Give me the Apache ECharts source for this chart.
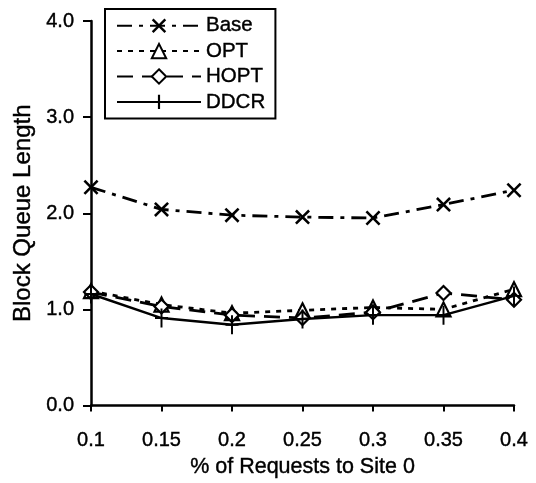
<!DOCTYPE html>
<html>
<head>
<meta charset="utf-8">
<script src="https://cdn.jsdelivr.net/npm/echarts@6/dist/echarts.min.js"></script>
<style>
  html, body { margin: 0; padding: 0; background: #fff; }
  #chart { width: 536px; height: 483px; }
</style>
</head>
<body>
<div id="chart"></div>
<script>
// Request share sent to site 0 (category axis)
const categories = ['0.1', '0.15', '0.2', '0.25', '0.3', '0.35', '0.4'];

// Average block queue length per scheme
const baseValues = [2.27, 2.04, 1.98, 1.96, 1.95, 2.09, 2.24];
const optValues  = [1.19, 1.05, 0.96, 0.99, 1.02, 1.00, 1.21];
const hoptValues = [1.18, 1.03, 0.94, 0.91, 0.97, 1.17, 1.10];
const ddcrValues = [1.16, 0.91, 0.84, 0.90, 0.94, 0.94, 1.14];

// Y axis range and step
const yMin = 0;
const yMax = 4;
const yStep = 1;

const FONT = '"Liberation Sans", Arial, sans-serif';
// slightly heavier glyphs for all text
const INK = { color: '#000', textBorderColor: '#000', textBorderWidth: 0.4 };

// Marker shapes drawn as filled outlines
const crossPath = 'path://M0,2.4 L2.4,0 L10,7.6 L17.6,0 L20,2.4 L12.4,10 L20,17.6 L17.6,20 L10,12.4 L2.4,20 L0,17.6 L7.6,10 Z';
const plusPath = 'path://M8.5,0 L11.5,0 L11.5,9 L20,9 L20,11 L11.5,11 L11.5,20 L8.5,20 L8.5,11 L0,11 L0,9 L8.5,9 Z';

const chart = echarts.init(document.getElementById('chart'), null, { renderer: 'canvas' });

chart.setOption({
  animation: false,
  backgroundColor: '#fff',
  textStyle: { fontFamily: FONT, color: '#000' },
  grid: { left: 91, right: 22, top: 21, bottom: 72, containLabel: false },
  legend: {
    orient: 'vertical',
    left: 105,
    top: 9,
    padding: [6, 10, 6, 11],
    backgroundColor: '#fff',
    borderColor: '#000',
    borderWidth: 2,
    borderRadius: 0,
    itemWidth: 84,
    itemHeight: 18,
    itemGap: 4,
    textStyle: Object.assign({ fontFamily: FONT, fontSize: 20.5, lineHeight: 19 }, INK),
    data: ['Base', 'OPT', 'HOPT', 'DDCR']
  },
  xAxis: {
    type: 'category',
    data: categories,
    boundaryGap: false,
    name: '% of Requests to Site 0',
    nameLocation: 'middle',
    nameGap: 43,
    nameTextStyle: Object.assign({ fontFamily: FONT, fontSize: 21.5 }, INK),
    axisLine: { lineStyle: { color: '#000', width: 2.5 } },
    axisTick: { show: true, alignWithLabel: true, length: 6, lineStyle: { color: '#000', width: 2 } },
    axisLabel: Object.assign({ fontFamily: FONT, fontSize: 20, margin: 25, interval: 0 }, INK),
    splitLine: { show: false }
  },
  yAxis: {
    type: 'value',
    min: yMin,
    max: yMax,
    interval: yStep,
    name: 'Block Queue Length',
    nameLocation: 'middle',
    nameGap: 52,
    nameTextStyle: Object.assign({ fontFamily: FONT, fontSize: 24 }, INK),
    axisLine: { show: true, lineStyle: { color: '#000', width: 2.5 } },
    axisTick: { show: true, length: 8, lineStyle: { color: '#000', width: 2 } },
    axisLabel: Object.assign({ fontFamily: FONT, fontSize: 20, margin: 17, formatter: v => v.toFixed(1) }, INK),
    splitLine: { show: false }
  },
  series: [
    {
      name: 'Base',
      type: 'line',
      data: baseValues,
      symbol: crossPath,
      symbolSize: 15,
      lineStyle: { color: '#000', width: 2.8, type: [15, 7, 4, 7] },
      itemStyle: { color: '#000', borderWidth: 0 },
      z: 2
    },
    {
      name: 'OPT',
      type: 'line',
      data: optValues,
      symbol: 'triangle',
      symbolSize: 14,
      lineStyle: { color: '#000', width: 2.8, type: [5, 6] },
      itemStyle: { color: '#fff', borderColor: '#000', borderWidth: 2.2 },
      z: 3
    },
    {
      name: 'HOPT',
      type: 'line',
      data: hoptValues,
      symbol: 'diamond',
      symbolSize: 14,
      lineStyle: { color: '#000', width: 2.8, type: [16, 9] },
      itemStyle: { color: '#fff', borderColor: '#000', borderWidth: 2.2 },
      z: 4
    },
    {
      name: 'DDCR',
      type: 'line',
      data: ddcrValues,
      symbol: plusPath,
      symbolSize: [13, 19],
      lineStyle: { color: '#000', width: 2.4, type: 'solid' },
      itemStyle: { color: '#000', borderWidth: 0 },
      z: 5
    }
  ]
});
</script>
</body>
</html>
